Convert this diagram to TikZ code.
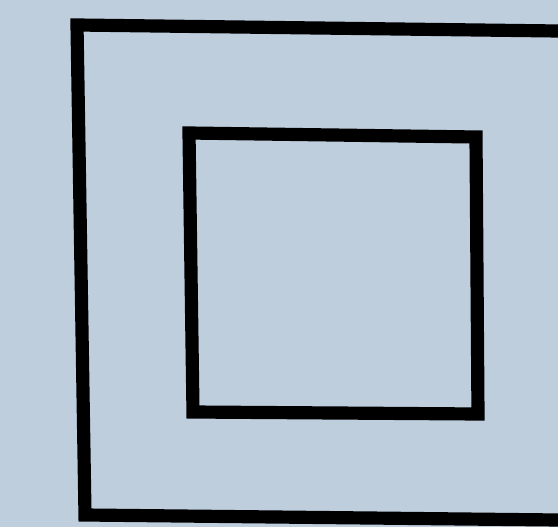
\documentclass[tikz,border=0pt]{standalone}
\usepackage{xcolor}
\definecolor{paperblue}{RGB}{191,206,221}
\begin{document}
\begin{tikzpicture}[
    x=0.02cm,
    y=-0.02cm,
    paper/.style={fill=paperblue, draw=none},
    frame/.style={draw=black, line width=7.5pt, line join=miter}
  ]
    \useasboundingbox (0,0) rectangle (558,527);
    \fill[paper] (0,0) rectangle (558,527);
    % outer frame, open on the right
    \draw[frame] (558,31) -- (77,25) -- (85,515) -- (558,520);
    % inner square
    \draw[frame] (189,133) -- (476,137) -- (478,414) -- (193,412) -- cycle;
  \end{tikzpicture}
\end{document}
